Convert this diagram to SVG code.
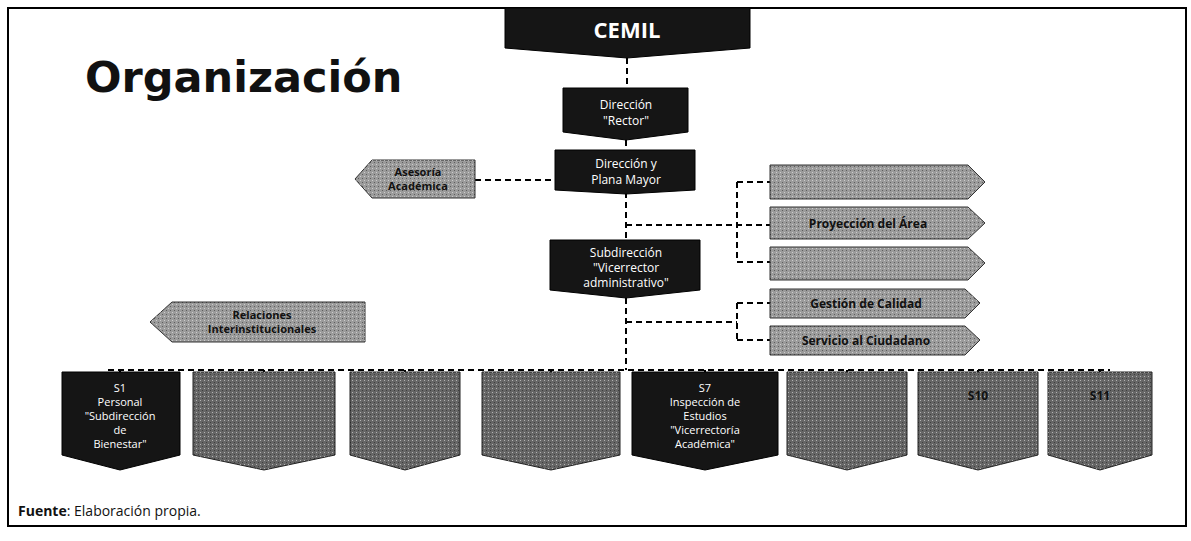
<svg xmlns="http://www.w3.org/2000/svg" width="1191" height="541" viewBox="0 0 1191 541">
<defs>
<style>
.dark{fill:#151515;stroke:#000;stroke-width:1}
.gray{fill:#666;stroke:#222;stroke-width:1}
.lgray{fill:#9b9b9b;stroke:#333;stroke-width:1}
.wt{font-family:"Open Sans","Liberation Sans",sans-serif;fill:#fff;text-anchor:middle}
.bt{font-family:"Open Sans","Liberation Sans",sans-serif;fill:#111;text-anchor:middle;font-weight:bold}
.con{fill:none;stroke:#000;stroke-width:2;stroke-dasharray:6 4}
</style>
<pattern id="grain" width="4" height="4" patternUnits="userSpaceOnUse">
<rect width="4" height="4" fill="none"/>
<rect x="0" y="0" width="1" height="1" fill="#fff" opacity="0.5"/>
<rect x="2" y="2" width="1" height="1" fill="#000" opacity="0.4"/>
</pattern>
</defs>
<rect x="0" y="0" width="1191" height="541" fill="#fff"/>
<rect x="8" y="8" width="1178" height="518" fill="none" stroke="#000" stroke-width="2"/>
<text x="85" y="92" font-family="DejaVu Sans, Liberation Sans, sans-serif" font-weight="bold" font-size="43" fill="#111">Organización</text>
<g id="connectors">
<path class="con" d="M627 58 V88"/>
<path class="con" d="M626 140 V150"/>
<path class="con" d="M475 180 H555"/>
<path class="con" d="M626 192 V240"/>
<path class="con" d="M626 225 H770"/>
<path class="con" d="M737 182 H770 M737 182 V262 M737 262 H770"/>
<path class="con" d="M626 298 V370"/>
<path class="con" d="M626 322 H737 M737 303 V340 M737 303 H770 M737 340 H770"/>
<path class="con" d="M108 370 H1110"/>
<path class="con" d="M120 370 V378 M264 370 V378 M405 370 V378 M551 370 V378 M705 370 V378 M847 370 V378 M978 370 V378 M1100 370 V378"/>
</g>
<g id="cemil">
<path class="dark" d="M505 8 H750 V48 L627 58 L505 48 Z"/>
<text class="wt" x="627" y="38" font-size="22" font-weight="bold">CEMIL</text>
</g>
<g id="direccion">
<path class="dark" d="M563 88 H688 V132 L626 140 L563 132 Z"/>
<text class="wt" x="626" y="109" font-size="12">Dirección</text>
<text class="wt" x="626" y="125" font-size="12">"Rector"</text>
</g>
<g id="plana-mayor">
<path class="dark" d="M555 150 H695 V190 L626 194 L555 190 Z"/>
<text class="wt" x="626" y="168" font-size="12">Dirección y</text>
<text class="wt" x="626" y="184" font-size="12">Plana Mayor</text>
</g>
<g id="asesoria">
<path class="lgray" d="M372 160 H475 V198 H372 L355 179 Z"/>
<path fill="url(#grain)" d="M372 160 H475 V198 H372 L355 179 Z"/>
<text class="bt" x="418" y="176" font-size="11">Asesoría</text>
<text class="bt" x="418" y="190" font-size="11">Académica</text>
</g>
<g id="subdireccion">
<path class="dark" d="M550 240 H700 V290 L626 298 L550 290 Z"/>
<text class="wt" x="626" y="257" font-size="12">Subdirección</text>
<text class="wt" x="626" y="272" font-size="12">"Vicerrector</text>
<text class="wt" x="626" y="287" font-size="12">administrativo"</text>
</g>
<g id="r1">
<path class="lgray" d="M770 165 H968 L985 182 L968 199 H770 Z"/>
<path fill="url(#grain)" d="M770 165 H968 L985 182 L968 199 H770 Z"/>
</g>
<g id="r2">
<path class="lgray" d="M770 207 H968 L985 223 L968 239 H770 Z"/>
<path fill="url(#grain)" d="M770 207 H968 L985 223 L968 239 H770 Z"/>
<text class="bt" x="868" y="228" font-size="12">Proyección del Área</text>
</g>
<g id="r3">
<path class="lgray" d="M770 247 H968 L985 263 L968 280 H770 Z"/>
<path fill="url(#grain)" d="M770 247 H968 L985 263 L968 280 H770 Z"/>
</g>
<g id="r4">
<path class="lgray" d="M770 289 H965 L980 303 L965 318 H770 Z"/>
<path fill="url(#grain)" d="M770 289 H965 L980 303 L965 318 H770 Z"/>
<text class="bt" x="866" y="308" font-size="12">Gestión de Calidad</text>
</g>
<g id="r5">
<path class="lgray" d="M770 326 H965 L980 340 L965 355 H770 Z"/>
<path fill="url(#grain)" d="M770 326 H965 L980 340 L965 355 H770 Z"/>
<text class="bt" x="866" y="345" font-size="12">Servicio al Ciudadano</text>
</g>
<g id="relaciones">
<path class="lgray" d="M172 302 H365 V342 H172 L150 322 Z"/>
<path fill="url(#grain)" d="M172 302 H365 V342 H172 L150 322 Z"/>
<text class="bt" x="262" y="319" font-size="11">Relaciones</text>
<text class="bt" x="262" y="333" font-size="11">Interinstitucionales</text>
</g>
<g id="s1">
<path class="dark" d="M62 372 H180 V455 L120 470 L62 455 Z"/>
<text class="wt" x="120" y="392" font-size="11">S1</text>
<text class="wt" x="120" y="406" font-size="11">Personal</text>
<text class="wt" x="120" y="420" font-size="11">"Subdirección</text>
<text class="wt" x="120" y="434" font-size="11">de</text>
<text class="wt" x="120" y="448" font-size="11">Bienestar"</text>
</g>
<g id="b2">
<path class="gray" d="M193 372 H335 V455 L264 470 L193 455 Z"/>
<path fill="url(#grain)" d="M193 372 H335 V455 L264 470 L193 455 Z"/>
</g>
<g id="b3">
<path class="gray" d="M350 372 H460 V455 L405 470 L350 455 Z"/>
<path fill="url(#grain)" d="M350 372 H460 V455 L405 470 L350 455 Z"/>
</g>
<g id="b4">
<path class="gray" d="M482 372 H620 V455 L551 470 L482 455 Z"/>
<path fill="url(#grain)" d="M482 372 H620 V455 L551 470 L482 455 Z"/>
</g>
<g id="s7">
<path class="dark" d="M632 372 H778 V455 L705 470 L632 455 Z"/>
<text class="wt" x="705" y="392" font-size="11">S7</text>
<text class="wt" x="705" y="406" font-size="11">Inspección de</text>
<text class="wt" x="705" y="420" font-size="11">Estudios</text>
<text class="wt" x="705" y="434" font-size="11">"Vicerrectoría</text>
<text class="wt" x="705" y="448" font-size="11">Académica"</text>
</g>
<g id="b6">
<path class="gray" d="M787 372 H907 V455 L847 470 L787 455 Z"/>
<path fill="url(#grain)" d="M787 372 H907 V455 L847 470 L787 455 Z"/>
</g>
<g id="s10">
<path class="gray" d="M918 372 H1038 V455 L978 470 L918 455 Z"/>
<path fill="url(#grain)" d="M918 372 H1038 V455 L978 470 L918 455 Z"/>
<text class="bt" x="978" y="400" font-size="12">S10</text>
</g>
<g id="s11">
<path class="gray" d="M1048 372 H1152 V455 L1100 470 L1048 455 Z"/>
<path fill="url(#grain)" d="M1048 372 H1152 V455 L1100 470 L1048 455 Z"/>
<text class="bt" x="1100" y="400" font-size="12">S11</text>
</g>
<text x="18" y="516" font-family="Open Sans, Liberation Sans, sans-serif" font-size="14" fill="#111"><tspan font-weight="bold">Fuente</tspan>: Elaboración propia.</text>
</svg>
